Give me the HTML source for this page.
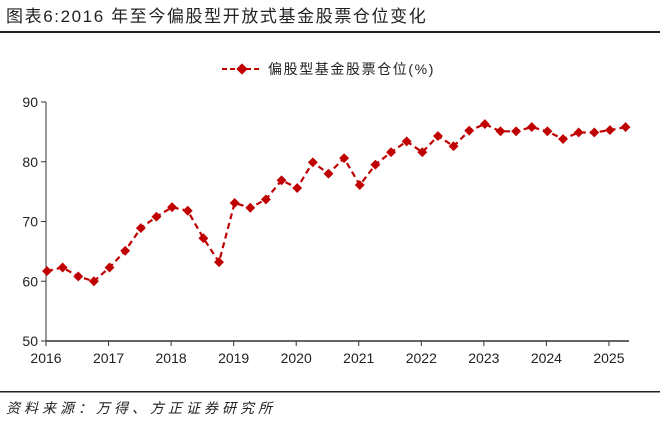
<!DOCTYPE html>
<html><head><meta charset="utf-8"><style>
body{margin:0;background:#fff;width:660px;height:425px;overflow:hidden;font-family:"Liberation Sans","Noto Sans CJK SC",sans-serif;}
</style></head><body>
<svg width="660" height="425" xmlns="http://www.w3.org/2000/svg">
<text x="6" y="22" font-size="17" letter-spacing="1.6" fill="#222" font-family="Liberation Sans, Noto Sans CJK SC, sans-serif">图表6:2016 年至今偏股型开放式基金股票仓位变化</text>
<rect x="0" y="31" width="660" height="2" fill="#222"/>
<g>
<line x1="222" y1="69" x2="262" y2="69" stroke="#c00000" stroke-width="2" stroke-dasharray="5,3"/>
<rect x="238" y="65" width="8" height="8" fill="#c00000" transform="rotate(45 242 69)"/>
<text x="268" y="74" font-size="14" letter-spacing="1.6" fill="#222">偏股型基金股票仓位(%)</text>
</g>
<g id="axes"></g>
<g id="series"></g>
<rect x="0" y="391" width="660" height="1.5" fill="#222"/>
<text x="6" y="413" font-size="14" letter-spacing="4" font-style="italic" fill="#222">资料来源：万得、方正证券研究所</text>
</svg>
<script>
const values=[61.7,62.3,60.8,60.0,62.3,65.1,68.9,70.8,72.4,71.8,67.2,63.2,73.1,72.3,73.7,76.9,75.6,79.9,78.0,80.6,76.1,79.5,81.6,83.4,81.6,84.3,82.6,85.2,86.3,85.1,85.1,85.8,85.1,83.8,84.9,84.9,85.3,85.8];
const yTicks=[50,60,70,80,90];
const xTicks=[2016,2017,2018,2019,2020,2021,2022,2023,2024,2025];
const NS="http://www.w3.org/2000/svg";
const x0=46,yearW=62.55,plotR=629;
function xi(i){return x0+1+i*yearW/4;}
function xy(yr){return x0+(yr-2016)*yearW;}
function yv(v){return 341-(v-50)*5.975;}
function mk(t,a,p){const e=document.createElementNS(NS,t);for(const k in a)e.setAttribute(k,a[k]);p.appendChild(e);return e;}
const ax=document.getElementById('axes'),se=document.getElementById('series');
const yAxis=mk('line',{x1:x0,y1:yv(90),x2:x0,y2:yv(50),stroke:'#333','stroke-width':1},ax);


const xAxis=mk('line',{x1:x0,y1:yv(50),x2:plotR,y2:yv(50),stroke:'#333','stroke-width':1.5},ax);


yTicks.forEach(v=>{
  mk('line',{x1:x0-5,y1:yv(v),x2:x0,y2:yv(v),stroke:'#333'},ax);
  const t=mk('text',{x:x0-8,y:yv(v)+5,'text-anchor':'end','font-size':14,fill:'#222'},ax);
  t.textContent=v;
  
  
});
xTicks.forEach(yr=>{
  mk('line',{x1:xy(yr),y1:yv(50),x2:xy(yr),y2:yv(50)+5,stroke:'#333'},ax);
  const t=mk('text',{x:xy(yr),y:363,'text-anchor':'middle','font-size':14,fill:'#222'},ax);
  t.textContent=yr;
  
  
});
const pts=values.map((v,i)=>xi(i).toFixed(1)+','+yv(v).toFixed(1)).join(' ');
const line=mk('polyline',{points:pts,fill:'none',stroke:'#c00000','stroke-width':2.2,'stroke-dasharray':'6,4'},se);


values.forEach((v,i)=>{
  const x=xi(i),y=yv(v);
  const r=mk('rect',{x:x-3.5,y:y-3.5,width:7,height:7,fill:'#c00000',transform:`rotate(45 ${x} ${y})`},se);
  
  
});
</script>
</body></html>
